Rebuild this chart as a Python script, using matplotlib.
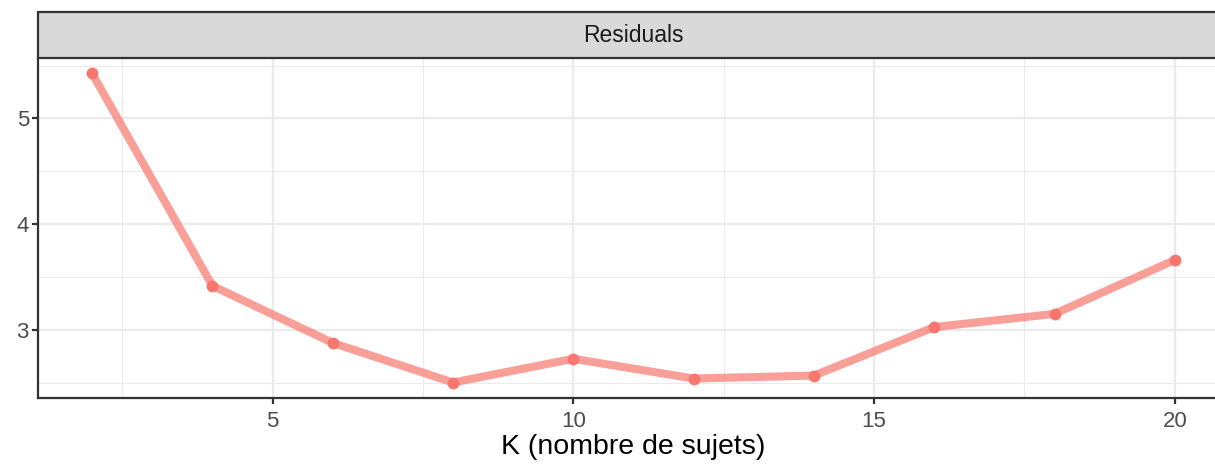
import matplotlib
matplotlib.use("Agg")
import matplotlib.pyplot as plt
import matplotlib.patches as patches
from matplotlib.ticker import MultipleLocator

# data
k_values = [2, 4, 6, 8, 10, 12, 14, 16, 18, 20]
residuals = [5.425, 3.415, 2.875, 2.50, 2.725, 2.538, 2.566, 3.025, 3.150, 3.660]
panel_label = "Residuals"
x_label = "K (nombre de sujets)"

plt.rcParams['font.family'] = ['Liberation Sans', 'DejaVu Sans']

W, H = 1215, 467
fig = plt.figure(figsize=(W / 100, H / 100), dpi=100)

# panel area in pixels (right edge runs past the figure, as in the reference)
left, right, top, bottom = 38, 1229, 58, 398
ax = fig.add_axes([left / W, 1 - bottom / H, (right - left) / W, (bottom - top) / H])

line_col = "#F8766D"
ax.plot(k_values, residuals, color=line_col, alpha=0.7, lw=5.8,
        solid_capstyle='butt', zorder=3)
ax.plot(k_values, residuals, 'o', color=line_col, ms=8.5, mew=0, zorder=4)

span = max(k_values) - min(k_values)
ax.set_xlim(min(k_values) - 0.05 * span, max(k_values) + 0.05 * span)
yspan = max(residuals) - min(residuals)
ax.set_ylim(min(residuals) - 0.05 * yspan, max(residuals) + 0.05 * yspan)

ax.xaxis.set_major_locator(MultipleLocator(5))
ax.xaxis.set_minor_locator(MultipleLocator(2.5))
ax.yaxis.set_major_locator(MultipleLocator(1))
ax.yaxis.set_minor_locator(MultipleLocator(0.5))

ax.grid(which='major', color='#EBEBEB', lw=1.6, zorder=0)
ax.grid(which='minor', color='#EBEBEB', lw=0.8, zorder=0)
ax.set_axisbelow(True)

for s in ['top', 'right']:
    ax.spines[s].set_visible(False)
for s in ['left', 'bottom']:
    ax.spines[s].set_color('#333333')
    ax.spines[s].set_linewidth(1.6)

ax.tick_params(which='major', length=4, width=1.6, color='#333333',
               labelsize=16, labelcolor='#4D4D4D', pad=2.5)
ax.tick_params(axis='x', which='major', pad=5.5)
ax.tick_params(which='minor', length=0)

ax.set_xlabel(x_label, fontsize=20.5, color='black', labelpad=1.5)

# facet strip
strip_top = 12
sax = fig.add_axes([left / W, 1 - top / H, (right - left) / W, (top - strip_top) / H])
sax.set_xlim(0, 1)
sax.set_ylim(0, 1)
sax.axis('off')
sax.add_patch(patches.Rectangle((0, 0), 1, 1, facecolor='#D9D9D9',
                                edgecolor='#333333', lw=1.6, clip_on=False))
sax.text(0.5, 0.5, panel_label, ha='center', va='center',
         fontsize=16.5, color='#1A1A1A')

fig.savefig("out.png", dpi=100)
